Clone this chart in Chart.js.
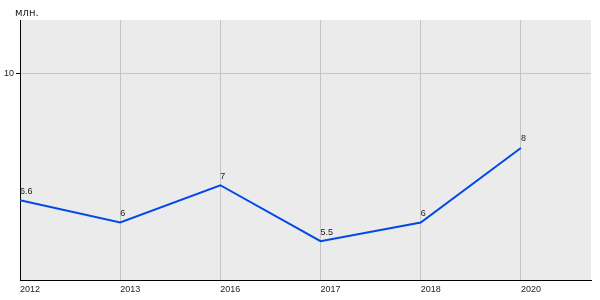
<!DOCTYPE html>
<html>
<head>
<meta charset="utf-8">
<script src="https://cdn.jsdelivr.net/npm/chart.js@4"></script>
<style>
  html, body { margin: 0; padding: 0; background: #fff; }
  #wrap { width: 600px; height: 300px; }
</style>
</head>
<body>
<div id="wrap"><canvas id="lineChart"></canvas></div>
<script>
// 데이터
const years = ['2012', '2013', '2016', '2017', '2018', '2020'];
const values = [6.6, 6, 7, 5.5, 6, 8];
const yTicks = [10];
const unitLabel = 'млн.';

const fontFamily = '"Liberation Sans", Arial, sans-serif';

// 플롯 배경 + 단위 텍스트 + 값 라벨
const decoPlugin = {
    id: 'deco',
    beforeDraw(chart) {
        const a = chart.chartArea;
        const ctx = chart.ctx;
        ctx.save();
        ctx.fillStyle = '#ebebeb';
        ctx.fillRect(a.left, a.top, a.right - a.left, a.bottom - a.top);
        ctx.restore();
    },
    afterDatasetsDraw(chart) {
        const ctx = chart.ctx;
        const a = chart.chartArea;
        ctx.save();
        ctx.fillStyle = '#222';
        ctx.textBaseline = 'middle';
        ctx.textAlign = 'left';
        ctx.font = '10px "DejaVu Sans", sans-serif';
        ctx.fillText(unitLabel, a.left - 5, a.top - 7);
        ctx.font = '9px ' + fontFamily;
        const meta = chart.getDatasetMeta(0);
        meta.data.forEach((pt, i) => {
            ctx.fillText(String(values[i]), pt.x, pt.y - 9);
        });
        ctx.restore();
    }
};

const ctx = document.getElementById('lineChart').getContext('2d');
new Chart(ctx, {
    type: 'line',
    data: {
        datasets: [{
            data: values.map((v, i) => ({ x: i, y: v })),
            borderColor: '#0048e8',
            borderWidth: 2,
            pointRadius: 0,
            tension: 0,
            fill: false
        }]
    },
    options: {
        responsive: true,
        maintainAspectRatio: false,
        animation: false,
        layout: { padding: { top: 20, right: 9, left: 0, bottom: 0 } },
        plugins: { legend: { display: false }, tooltip: { enabled: false } },
        scales: {
            x: {
                type: 'linear',
                min: 0,
                max: 5.7,
                afterBuildTicks(scale) {
                    scale.ticks = years.map((y, i) => ({ value: i }));
                },
                afterFit(scale) { scale.height = 20; },
                ticks: {
                    align: 'start',
                    padding: 4,
                    maxRotation: 0,
                    autoSkip: false,
                    color: '#222',
                    font: { family: fontFamily, size: 9 },
                    callback: (v) => years[v] ?? ''
                },
                grid: { color: '#c4c4c4', drawTicks: false },
                border: { display: true, color: '#000', width: 1 }
            },
            y: {
                min: 4.46,
                max: 11.43,
                afterBuildTicks(scale) {
                    scale.ticks = yTicks.map(v => ({ value: v }));
                },
                afterFit(scale) { scale.width = 20; },
                ticks: {
                    padding: 2,
                    color: '#222',
                    font: { family: fontFamily, size: 9 }
                },
                grid: { color: '#c4c4c4', tickColor: '#000', tickLength: 4 },
                border: { display: true, color: '#000', width: 1 }
            }
        }
    },
    plugins: [decoPlugin]
});
</script>
</body>
</html>
